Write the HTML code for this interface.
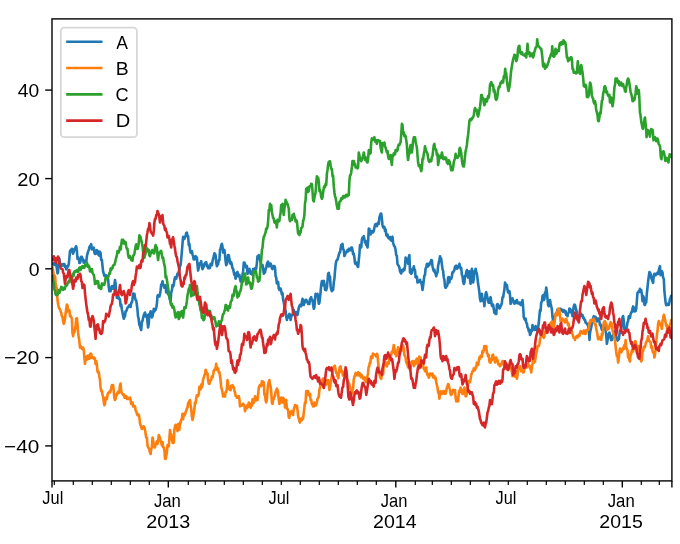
<!DOCTYPE html><html><head><meta charset="utf-8"><title>Line chart A B C D</title><style>html,body{margin:0;padding:0;background:#fff;overflow:hidden;}svg{display:block;}text{font-family:"Liberation Sans",sans-serif;fill:#000;font-kerning:none;will-change:transform;}</style></head><body>
<svg width="680" height="544" viewBox="0 0 680 544">
<rect x="0" y="0" width="680" height="544" fill="#fff"/>
<defs><clipPath id="ax"><rect x="52.0" y="18.9" width="619.90" height="462.00"/></clipPath></defs>
<g clip-path="url(#ax)" fill="none" stroke-width="2.6" stroke-linejoin="round" stroke-linecap="square">
<polyline stroke="#1f77b4" points="52.5,263.8 53.1,263.9 53.8,263.1 54.4,265.0 55.0,265.0 55.6,263.5 56.3,264.3 56.9,268.8 57.5,273.4 58.0,272.5 58.7,264.5 59.4,258.8 60.0,265.2 60.6,263.8 61.2,266.1 61.9,265.0 62.5,265.6 63.1,264.1 63.8,264.1 64.4,264.1 65.0,267.0 65.6,266.2 66.3,269.5 66.9,268.0 67.5,266.2 68.1,266.4 68.8,263.8 69.4,257.7 70.0,251.0 70.6,250.1 71.3,251.5 71.9,248.8 72.5,251.2 73.0,253.8 73.7,251.8 74.4,248.8 75.0,249.6 75.6,247.0 76.2,246.2 76.9,251.3 77.5,258.8 78.1,257.2 78.8,258.8 79.4,263.0 80.0,262.8 80.6,260.8 81.2,256.9 81.8,256.8 82.4,258.4 83.0,259.4 83.7,262.8 84.3,262.8 85.0,261.2 85.6,260.3 86.3,261.6 86.9,256.2 87.5,253.8 88.1,251.4 88.8,250.0 89.4,247.1 90.0,246.0 90.6,245.6 91.2,244.1 91.9,249.5 92.5,248.8 93.1,249.2 93.8,247.7 94.4,252.5 95.0,254.0 95.6,254.0 96.2,250.6 96.9,250.1 97.5,251.7 98.1,254.4 98.7,251.6 99.4,255.9 100.0,251.9 100.6,253.2 101.2,260.0 101.9,259.8 102.5,266.2 103.1,271.4 103.8,273.8 104.4,276.0 105.0,275.8 105.6,275.0 106.2,275.6 106.9,275.9 107.5,278.8 108.1,279.0 108.8,287.5 109.4,291.2 110.0,288.1 110.6,291.2 111.2,287.5 111.9,286.0 112.5,286.0 113.1,288.8 113.7,288.4 114.4,285.5 115.0,280.0 115.6,283.6 116.2,293.8 116.9,297.8 117.5,298.0 118.1,295.1 118.8,298.8 119.4,298.4 120.0,299.9 120.6,306.0 121.2,304.5 121.9,309.5 122.5,312.5 123.1,315.9 123.8,318.8 124.4,316.8 125.0,316.5 125.6,311.2 126.2,311.4 126.9,309.3 127.5,307.5 128.1,307.5 128.8,306.1 129.4,305.0 130.0,306.2 130.6,306.9 131.3,302.5 131.9,302.5 132.5,299.2 133.1,293.6 133.8,293.8 134.4,293.8 135.0,297.7 135.6,300.0 136.2,300.3 136.9,305.0 137.5,310.0 138.0,316.3 138.5,318.0 139.4,325.0 140.0,326.1 140.6,328.5 141.2,330.0 141.9,321.2 142.5,321.1 143.1,317.9 143.8,315.0 144.4,313.7 145.0,312.5 145.6,316.5 146.3,316.5 146.9,315.0 147.5,322.4 148.1,327.5 148.8,323.0 149.4,313.8 150.0,314.1 150.6,311.2 151.2,313.5 151.9,317.4 152.5,316.2 153.1,313.2 153.8,308.8 154.4,311.4 155.0,310.0 155.6,310.0 156.3,307.3 156.9,303.8 157.5,295.9 158.1,295.0 158.7,296.1 159.4,296.5 160.0,293.8 160.6,290.4 161.2,284.5 161.9,284.6 162.5,281.2 163.1,284.7 163.8,286.2 164.4,287.8 165.0,287.8 165.6,285.0 166.2,292.3 166.9,289.5 167.5,292.5 168.1,294.2 168.8,293.0 169.4,297.5 170.0,299.8 170.6,301.2 171.2,292.5 171.9,290.4 172.5,285.0 173.1,286.5 173.8,284.7 174.4,280.0 175.0,277.2 175.6,277.2 176.2,278.8 176.9,275.8 177.5,273.5 178.1,275.0 178.8,271.3 179.4,270.0 180.0,265.7 180.6,265.0 181.2,258.8 181.9,251.2 182.5,243.8 183.1,236.7 183.8,237.5 184.4,239.0 185.0,236.7 185.6,236.2 186.2,233.0 186.9,232.5 187.5,236.5 188.1,236.2 188.8,245.2 189.4,243.8 190.0,249.4 190.6,252.5 191.2,252.8 191.9,251.2 192.5,254.3 193.1,256.2 193.7,259.5 194.4,259.5 195.0,258.0 195.6,256.2 196.3,258.8 196.9,257.5 197.5,264.6 198.1,270.5 198.8,267.7 199.4,263.8 200.0,263.1 200.6,263.5 201.2,261.2 201.9,265.8 202.5,269.2 203.1,267.8 203.7,266.8 204.4,263.9 205.0,263.8 205.6,262.2 206.3,262.2 206.9,266.2 207.5,265.2 208.1,268.2 208.8,266.8 209.4,268.2 210.0,267.8 210.6,263.8 211.2,265.2 211.9,265.2 212.5,261.2 213.1,258.8 213.7,256.4 214.4,253.2 215.0,253.8 215.6,255.2 216.2,262.5 216.9,266.3 217.5,265.0 218.1,264.2 218.8,260.0 219.4,260.2 220.0,250.0 220.6,248.5 221.3,244.9 221.9,243.8 222.5,246.8 223.1,252.5 223.8,250.5 224.4,250.0 225.0,254.6 225.6,261.2 226.2,265.2 226.9,263.8 227.5,260.3 228.1,255.0 228.8,255.3 229.4,258.8 230.0,262.6 230.6,263.8 231.2,262.2 231.9,265.0 232.5,268.3 233.1,268.8 233.8,272.4 234.4,275.0 235.0,273.5 235.6,278.8 236.2,275.5 236.9,272.5 237.5,272.0 238.1,276.2 238.7,275.3 239.4,274.8 240.0,278.8 240.6,281.5 241.2,280.0 241.9,279.0 242.5,275.0 243.1,271.4 243.8,262.5 244.4,262.5 245.0,263.8 245.6,265.8 246.2,267.5 246.9,266.0 247.5,273.8 248.1,272.9 248.8,271.7 249.4,268.8 250.0,270.6 250.6,273.8 251.2,272.7 251.9,272.2 252.5,275.0 253.1,269.0 253.8,270.3 254.4,268.8 255.0,268.3 255.6,269.6 256.2,268.8 256.9,263.1 257.5,256.2 258.1,256.6 258.8,255.0 259.4,256.4 260.0,260.0 260.6,262.2 261.2,266.2 261.9,264.9 262.5,265.0 263.1,268.4 263.8,273.8 264.4,271.0 265.0,272.5 265.6,269.0 266.2,267.5 266.9,263.9 267.5,262.5 268.1,261.5 268.8,266.5 269.4,265.0 270.0,263.5 270.6,263.5 271.2,265.0 271.9,268.4 272.5,269.0 273.1,267.5 273.7,266.0 274.4,266.0 275.0,267.5 275.6,276.2 276.2,277.5 276.9,283.5 277.5,283.5 278.1,282.0 278.8,288.6 279.4,290.0 280.0,288.5 280.6,288.6 281.2,291.0 281.9,294.5 282.5,293.0 283.1,299.5 283.8,302.5 284.4,306.4 285.0,308.8 285.6,310.9 286.3,316.8 286.9,320.0 287.5,316.1 288.1,317.5 288.8,316.9 289.4,313.8 290.0,315.8 290.6,320.0 291.2,316.7 291.9,315.0 292.5,314.4 293.1,313.0 293.8,310.0 294.4,314.0 295.0,314.0 295.6,312.5 296.2,312.1 296.9,315.1 297.5,315.0 298.1,312.1 298.8,307.5 299.4,306.4 300.0,304.8 300.6,306.2 301.2,306.3 301.9,302.1 302.5,298.8 303.1,300.0 303.8,305.0 304.4,301.2 305.0,302.5 305.6,299.8 306.3,299.8 306.9,301.2 307.5,301.8 308.1,304.0 308.8,302.5 309.4,304.0 310.0,298.8 310.6,298.8 311.2,297.2 311.9,300.5 312.5,300.0 313.1,304.6 313.8,308.8 314.4,306.8 315.0,300.0 315.6,293.7 316.2,295.0 316.9,295.4 317.5,293.8 318.1,298.3 318.8,303.8 319.4,302.9 320.0,297.5 320.6,291.8 321.2,285.0 321.9,281.1 322.5,285.3 323.1,281.2 323.8,280.8 324.4,283.8 325.0,289.7 325.6,288.8 326.2,290.2 326.9,287.5 327.5,281.3 328.1,273.8 328.8,272.9 329.4,276.2 330.0,276.4 330.6,286.2 331.2,289.6 331.9,291.2 332.5,290.1 333.1,290.0 333.8,282.3 334.4,278.8 335.0,271.5 335.6,265.0 336.2,261.4 336.9,260.0 337.5,259.7 338.1,257.5 338.8,254.8 339.4,252.5 340.0,252.4 340.6,249.1 341.2,245.0 341.9,244.5 342.5,243.8 343.1,249.0 343.8,250.0 344.4,256.0 345.0,255.0 345.6,252.2 346.2,252.5 346.9,251.4 347.5,250.0 348.1,251.4 348.8,248.9 349.4,248.8 350.0,250.2 350.6,250.2 351.2,247.5 351.9,247.6 352.5,250.0 353.1,254.2 353.8,253.7 354.4,257.5 355.0,263.0 355.6,264.0 356.2,262.5 356.9,264.2 357.5,266.2 358.1,267.0 358.8,260.0 359.4,253.9 360.0,245.0 360.6,245.5 361.2,247.5 361.9,239.6 362.5,237.5 363.1,238.2 363.8,236.2 364.4,239.2 365.0,242.5 365.6,241.0 366.2,245.0 366.9,243.5 367.5,247.5 368.1,241.4 368.8,228.5 369.4,228.9 370.0,232.5 370.6,234.5 371.2,233.0 371.9,231.0 372.5,232.5 373.1,232.3 373.8,231.0 374.4,227.5 375.0,225.0 375.6,224.0 376.3,224.4 376.9,226.2 377.5,223.7 378.1,222.5 378.8,223.9 379.4,217.5 380.0,215.7 380.6,213.8 381.2,213.6 381.9,218.8 382.5,225.0 383.1,227.5 383.7,226.4 384.4,227.0 385.0,231.0 385.6,229.5 386.3,235.2 386.9,236.0 387.5,234.5 388.1,237.5 388.8,238.4 389.4,238.5 390.0,237.0 390.6,240.0 391.2,240.5 391.9,237.5 392.5,236.7 393.1,242.5 393.8,245.3 394.4,246.2 395.0,247.2 395.6,250.0 396.2,254.8 396.9,256.2 397.5,264.1 398.1,265.0 398.8,266.0 399.4,267.5 400.0,271.3 400.6,272.5 401.2,273.5 401.9,270.0 402.5,270.5 403.1,271.2 403.8,268.5 404.4,270.0 405.0,266.4 405.6,257.5 406.2,260.2 406.9,258.8 407.5,260.4 408.1,263.8 408.8,257.0 409.4,255.0 410.0,272.5 410.6,272.0 411.2,273.8 411.9,272.7 412.5,268.8 413.1,270.1 413.8,266.2 414.4,269.5 415.0,270.0 415.6,277.3 416.2,277.5 416.9,276.5 417.5,282.5 418.1,282.2 418.8,281.2 419.4,281.1 420.0,279.8 420.6,282.5 421.2,281.9 421.9,285.1 422.5,290.0 423.1,286.2 423.8,280.0 424.4,275.3 425.0,275.0 425.6,268.4 426.2,267.5 426.9,264.0 427.5,263.8 428.1,266.5 428.8,265.0 429.4,264.9 430.0,262.5 430.6,262.1 431.2,260.0 431.9,260.4 432.5,266.2 433.1,269.1 433.8,271.2 434.4,269.8 435.0,272.5 435.6,273.5 436.2,276.2 436.9,273.4 437.5,272.5 438.1,265.9 438.8,262.5 439.4,259.8 440.0,256.2 440.6,258.3 441.2,258.8 441.9,264.6 442.5,268.8 443.1,271.0 443.8,277.5 444.4,280.0 445.0,286.2 445.6,287.8 446.3,286.4 446.9,286.2 447.5,284.6 448.1,277.5 448.8,277.1 449.4,282.5 450.0,277.5 450.6,277.5 451.2,279.0 451.9,276.2 452.5,272.3 453.1,272.5 453.8,271.0 454.4,270.0 455.0,266.7 455.6,266.2 456.2,265.7 456.9,268.8 457.5,268.3 458.1,266.2 458.8,266.6 459.4,263.8 460.0,266.3 460.6,268.8 461.2,267.8 461.9,275.0 462.5,276.2 463.1,281.2 463.8,284.0 464.4,282.5 465.0,276.1 465.6,276.2 466.2,272.4 466.9,270.0 467.5,271.9 468.1,277.5 468.8,274.4 469.4,271.2 470.0,279.5 470.6,283.8 471.2,273.5 471.9,268.8 472.5,274.0 473.1,282.5 473.8,279.0 474.4,271.2 475.0,272.8 475.6,268.8 476.2,272.1 476.9,273.8 477.5,278.4 478.1,283.8 478.8,287.9 479.4,292.5 480.0,298.8 480.6,301.2 481.2,297.8 481.9,293.8 482.5,300.1 483.1,301.2 483.8,299.8 484.4,306.2 485.0,298.8 485.6,293.8 486.2,292.2 486.9,295.0 487.5,297.9 488.1,301.2 488.7,302.8 489.4,302.8 490.0,298.8 490.6,297.2 491.2,301.2 491.9,305.9 492.5,305.0 493.1,304.7 493.8,309.0 494.4,312.7 495.0,312.5 495.6,314.0 496.3,314.0 496.9,305.0 497.5,304.0 498.1,304.6 498.8,306.2 499.4,308.5 500.0,308.0 500.6,305.9 501.3,305.1 501.9,302.5 502.5,297.2 503.1,297.5 503.8,292.7 504.4,290.0 505.0,282.5 505.6,283.8 506.2,284.9 506.9,285.0 507.5,289.6 508.1,292.5 508.8,291.7 509.4,291.2 510.0,295.0 510.6,303.8 511.2,303.1 511.9,298.8 512.5,298.3 513.1,301.2 513.8,301.0 514.4,303.8 515.0,302.0 515.6,301.2 516.2,302.8 516.9,300.0 517.5,303.3 518.1,302.5 518.8,303.6 519.4,302.5 520.0,302.5 520.6,304.9 521.2,305.0 521.9,303.7 522.5,300.0 523.1,306.5 523.8,317.5 524.4,318.8 525.0,320.0 525.6,318.5 526.2,322.5 526.9,323.5 527.5,327.5 528.1,327.9 528.8,331.2 529.4,329.8 530.0,335.0 530.6,333.7 531.2,330.0 531.9,331.2 532.5,325.0 533.1,329.5 533.8,328.8 534.4,329.8 535.0,327.5 535.6,326.0 536.2,330.0 536.9,330.1 537.5,331.2 538.1,327.8 538.8,322.5 539.4,315.9 540.0,310.0 540.6,310.9 541.2,302.5 541.9,301.7 542.5,296.2 543.1,295.0 543.8,300.0 544.4,299.0 545.0,292.5 545.6,294.0 546.2,287.5 546.9,292.1 547.5,298.8 548.1,305.2 548.8,306.2 549.4,302.6 550.0,300.0 550.6,303.3 551.2,306.2 551.9,309.6 552.5,317.5 553.1,320.2 553.8,318.8 554.4,316.6 555.0,316.2 555.6,314.3 556.3,314.3 556.9,312.5 557.5,309.5 558.1,311.2 558.8,310.0 559.4,310.6 560.0,308.9 560.6,308.8 561.2,309.7 561.9,309.6 562.5,311.2 563.1,311.8 563.8,310.0 564.4,310.7 565.0,312.5 565.6,311.1 566.2,315.0 566.9,313.7 567.5,316.2 568.1,313.3 568.8,312.5 569.4,308.5 570.0,310.0 570.6,309.5 571.2,312.5 571.9,313.1 572.5,316.2 573.1,310.6 573.8,306.2 574.4,304.7 575.0,305.0 575.6,307.5 576.2,310.0 576.9,311.9 577.5,316.2 578.1,320.2 578.8,318.8 579.4,317.0 580.0,315.0 580.6,315.3 581.2,313.8 581.9,316.0 582.5,315.0 583.1,317.9 583.8,317.5 584.4,319.8 585.0,320.0 585.6,322.8 586.2,322.5 586.9,323.9 587.5,325.0 588.1,325.2 588.8,330.0 589.5,340.0 590.0,332.9 590.6,330.0 591.2,327.5 591.9,322.9 592.5,320.0 593.1,318.3 593.8,316.2 594.4,318.5 595.0,317.5 595.6,317.0 596.2,318.2 596.9,321.5 597.5,320.0 598.1,318.5 598.8,318.5 599.4,321.4 600.0,325.0 600.6,324.4 601.2,327.5 601.9,329.9 602.5,328.8 603.1,326.8 603.8,325.3 604.4,323.8 605.0,329.3 605.6,330.3 606.2,335.0 606.9,343.8 607.5,340.2 608.1,337.5 608.8,333.4 609.4,332.5 610.0,334.8 610.6,337.5 611.2,340.1 611.9,340.0 612.5,336.7 613.1,335.0 613.7,334.6 614.4,333.7 615.0,331.2 615.6,335.3 616.3,337.5 616.9,337.5 617.5,340.6 618.1,340.0 618.8,339.1 619.4,335.0 620.0,330.5 620.6,332.8 621.2,328.8 621.9,324.5 622.5,317.5 623.1,316.0 623.8,321.2 624.4,329.6 625.0,330.0 625.6,328.0 626.2,329.5 626.9,326.2 627.5,322.3 628.1,321.2 628.8,316.3 629.4,316.2 630.0,317.8 630.6,313.9 631.2,312.5 631.9,312.1 632.5,308.8 633.1,306.4 633.8,307.5 634.4,311.5 635.0,311.2 635.6,311.3 636.2,308.8 636.9,300.5 637.5,292.5 638.1,292.4 638.8,291.2 639.4,292.0 640.0,288.8 640.6,290.8 641.2,290.0 641.9,294.3 642.5,301.2 643.1,296.0 643.8,297.5 644.4,304.7 645.0,305.0 645.6,302.4 646.2,302.5 646.9,293.0 647.5,287.5 648.1,281.7 648.8,276.2 649.4,272.1 650.0,272.5 650.6,274.0 651.2,277.5 651.9,279.7 652.5,281.2 653.1,282.8 653.8,275.0 654.4,273.9 655.0,273.8 655.6,275.2 656.2,273.8 656.9,274.0 657.5,272.5 658.1,274.0 658.8,270.0 659.4,268.0 660.0,266.2 660.6,275.2 661.2,273.8 661.9,271.3 662.5,272.5 663.1,277.6 663.8,278.8 664.4,291.2 665.0,296.9 665.6,302.5 666.2,305.3 666.9,305.0 667.5,303.6 668.1,303.8 668.8,304.9 669.4,302.5 670.0,298.8 670.6,297.5 671.2,295.8 671.9,295.7 672.5,296.0"/>
<polyline stroke="#ff7f0e" points="52.5,267.5 53.1,270.6 53.8,275.4 54.4,277.5 55.0,276.0 55.6,282.4 56.3,287.2 56.9,288.8 57.5,300.0 58.1,304.1 58.8,307.5 59.4,308.8 60.0,309.1 60.6,311.2 61.2,312.8 61.9,316.2 62.5,316.9 63.1,321.3 63.8,323.8 64.4,322.1 65.0,318.8 65.6,313.3 66.2,308.8 66.9,304.5 67.5,305.6 68.1,311.5 68.8,310.0 69.4,310.2 70.0,316.2 70.6,315.6 71.3,317.2 71.9,318.8 72.5,333.0 73.1,336.2 73.8,331.0 74.4,332.5 75.0,329.2 75.6,326.0 76.2,318.8 76.9,318.2 77.5,323.8 78.1,332.9 78.8,337.5 79.4,341.5 80.0,347.5 80.6,346.0 81.3,346.9 81.9,348.8 82.5,349.1 83.1,347.7 83.8,350.0 84.4,357.8 85.0,363.8 85.6,359.1 86.3,359.8 86.9,356.2 87.5,359.3 88.1,355.6 88.8,358.8 89.4,358.7 90.0,354.5 90.6,353.5 91.2,353.8 91.9,358.0 92.5,358.0 93.1,357.5 93.7,358.6 94.4,357.5 95.0,358.8 95.6,364.1 96.3,361.3 96.9,365.0 97.5,371.4 98.1,372.6 98.8,372.1 99.4,376.9 100.0,380.0 100.6,387.7 101.2,391.1 101.9,390.7 102.5,395.0 103.1,396.6 103.8,402.4 104.4,405.2 105.0,403.8 105.6,397.7 106.2,398.7 106.9,399.1 107.5,394.9 108.1,393.0 108.8,392.5 109.4,391.7 110.0,392.4 110.6,390.9 111.2,388.2 111.9,385.0 112.5,386.2 113.1,385.2 113.8,391.4 114.4,398.2 115.0,400.0 115.6,398.9 116.2,394.5 116.9,395.2 117.5,392.5 118.1,391.7 118.8,392.8 119.4,391.0 120.0,385.0 120.6,383.5 121.2,391.1 121.9,393.4 122.5,393.8 123.1,394.6 123.8,394.3 124.4,397.5 125.0,397.8 125.6,397.8 126.2,396.2 126.9,399.0 127.5,397.4 128.1,399.0 128.8,399.0 129.4,399.0 130.0,397.5 130.6,400.1 131.2,404.0 131.9,404.0 132.5,402.5 133.1,406.5 133.8,405.7 134.4,406.0 135.0,406.8 135.6,410.6 136.2,411.2 136.9,414.0 137.5,415.3 138.1,414.2 138.8,415.0 139.4,417.6 140.0,423.4 140.6,425.4 141.2,427.5 141.9,429.0 142.5,428.5 143.1,426.4 143.8,426.2 144.4,427.6 145.0,429.6 145.6,433.8 146.2,437.5 146.9,437.9 147.5,445.1 148.1,447.4 148.8,448.2 149.4,449.5 150.0,452.5 150.6,454.0 151.2,449.1 151.9,447.2 152.5,437.5 153.1,440.0 153.8,445.5 154.4,447.2 155.0,447.5 155.6,444.4 156.2,442.9 156.9,441.3 157.5,444.1 158.1,440.9 158.8,435.0 159.4,436.5 160.0,438.3 160.6,440.6 161.2,442.5 161.9,445.4 162.5,442.0 163.1,447.1 163.8,447.5 164.4,450.0 165.0,458.8 165.6,458.9 166.2,456.3 166.9,452.5 167.5,445.0 168.1,446.5 168.8,446.5 169.4,438.0 170.0,430.0 170.6,434.9 171.2,434.2 171.9,439.4 172.5,442.5 173.1,443.0 173.8,442.6 174.4,429.8 175.0,426.2 175.6,424.8 176.2,426.7 176.9,428.3 177.5,431.2 178.1,424.0 178.8,426.5 179.4,429.8 180.0,422.5 180.6,422.9 181.2,419.8 181.9,418.8 182.5,413.7 183.1,419.2 183.8,415.0 184.4,413.5 185.0,414.8 185.6,412.1 186.2,410.8 186.9,408.4 187.5,407.5 188.1,403.5 188.8,401.9 189.4,401.2 190.0,400.0 190.6,405.0 191.2,408.9 191.9,416.3 192.5,420.0 193.1,417.4 193.8,412.9 194.4,409.0 195.0,402.5 195.6,403.4 196.2,398.6 196.9,395.2 197.5,395.5 198.1,396.0 198.8,393.8 199.4,386.9 200.0,388.4 200.6,389.4 201.2,384.6 201.9,387.3 202.5,385.0 203.1,379.3 203.8,377.8 204.4,375.4 205.0,374.2 205.6,369.8 206.2,371.2 206.9,373.9 207.5,373.4 208.1,380.2 208.8,383.8 209.4,383.8 210.0,381.5 210.6,380.2 211.2,379.9 211.9,376.3 212.5,377.5 213.1,374.7 213.8,370.5 214.4,369.6 215.0,369.9 215.6,367.9 216.2,363.8 216.9,369.9 217.5,367.9 218.1,368.4 218.8,372.5 219.4,372.0 220.0,376.3 220.6,380.3 221.2,387.5 221.9,389.4 222.5,392.2 223.1,396.5 223.8,395.0 224.4,396.5 225.0,396.5 225.6,392.0 226.2,392.0 226.9,389.0 227.5,380.0 228.1,384.0 228.8,388.8 229.4,389.1 230.0,390.0 230.6,390.2 231.2,385.7 231.9,385.8 232.5,385.0 233.1,387.3 233.8,387.1 234.4,390.9 235.0,392.5 235.6,395.7 236.2,395.9 236.9,397.8 237.5,397.8 238.1,397.8 238.8,396.2 239.4,399.4 240.0,406.3 240.6,406.1 241.2,405.0 241.9,405.5 242.5,405.0 243.1,403.7 243.8,405.2 244.4,405.3 245.0,411.2 245.6,408.8 246.2,407.4 246.9,408.2 247.5,404.7 248.1,407.1 248.8,402.5 249.4,403.0 250.0,405.0 250.6,407.8 251.2,406.2 251.9,405.6 252.5,399.3 253.1,403.5 253.8,402.7 254.4,399.9 255.0,396.2 255.6,398.1 256.2,400.4 256.9,400.0 257.5,400.0 258.1,394.4 258.8,387.8 259.4,386.0 260.0,385.0 260.6,384.8 261.3,386.1 261.9,381.2 262.5,382.6 263.1,381.7 263.8,382.5 264.4,394.7 265.0,393.8 265.6,400.4 266.2,402.5 266.9,399.5 267.5,390.0 268.1,384.6 268.8,381.6 269.4,380.0 270.0,384.6 270.6,386.2 271.2,391.9 271.9,402.5 272.5,404.0 273.1,400.0 273.8,398.9 274.4,396.2 275.0,396.0 275.6,391.6 276.2,391.2 276.9,388.5 277.5,390.0 278.1,393.0 278.8,400.0 279.4,404.0 280.0,402.5 280.6,399.8 281.2,397.5 281.9,400.8 282.5,402.5 283.1,397.8 283.8,398.8 284.4,400.8 285.0,407.5 285.6,401.8 286.2,400.0 286.9,408.9 287.5,408.8 288.1,410.2 288.8,417.5 289.4,417.9 290.0,412.5 290.6,412.3 291.3,411.0 291.9,413.8 292.5,412.7 293.1,415.0 293.7,409.9 294.4,407.3 295.0,405.0 295.6,406.6 296.2,406.2 296.9,405.7 297.5,410.0 298.1,415.9 298.8,418.8 299.4,421.2 300.0,422.6 300.6,418.8 301.2,419.5 301.9,420.2 302.5,417.5 303.1,418.6 303.8,412.5 304.4,407.4 305.0,402.5 305.6,403.0 306.2,391.2 306.9,391.0 307.5,392.1 308.1,391.2 308.7,395.2 309.4,395.2 310.0,393.8 310.6,400.2 311.2,400.0 311.9,403.9 312.5,405.0 313.1,406.4 313.8,406.5 314.4,402.5 315.0,405.4 315.6,405.6 316.2,405.0 316.9,402.3 317.5,398.8 318.1,398.0 318.8,396.2 319.4,389.6 320.0,387.5 320.6,384.1 321.2,383.8 321.9,380.1 322.5,380.0 323.1,378.5 323.8,381.8 324.4,381.2 325.0,383.9 325.6,385.0 326.2,383.4 326.9,380.0 327.5,380.0 328.1,380.0 328.8,385.2 329.4,390.0 330.0,387.6 330.7,382.5 331.4,378.4 332.1,374.7 332.8,369.2 333.5,367.0 334.1,366.4 334.8,365.7 335.5,369.2 336.2,373.1 336.9,372.9 337.6,376.5 338.3,378.4 339.0,371.9 339.7,367.4 340.6,366.4 341.5,372.0 342.2,371.0 342.9,375.6 343.5,372.3 344.1,372.3 344.7,373.8 345.4,372.3 346.1,374.7 346.8,379.4 347.5,380.2 348.1,382.0 348.8,383.0 349.5,385.2 350.2,387.6 350.9,390.3 351.6,394.0 352.3,390.2 353.0,389.4 353.7,379.9 354.4,376.5 355.0,375.5 355.7,372.9 356.3,373.9 357.0,375.3 357.6,373.8 358.2,372.3 358.8,373.0 359.4,375.6 360.0,373.4 360.7,377.1 361.3,374.7 362.0,375.6 362.6,377.5 363.3,379.1 364.0,378.4 364.7,377.5 365.4,381.1 366.3,382.1 367.2,377.5 367.9,373.9 368.6,367.4 369.2,366.1 369.8,362.8 370.4,362.8 371.0,356.5 371.7,357.4 372.3,358.0 373.0,353.5 373.8,355.0 374.4,354.4 375.0,354.9 375.6,355.0 376.2,356.5 376.9,353.7 377.5,355.0 378.1,361.8 378.7,367.4 379.6,375.0 380.5,378.0 381.2,378.8 381.9,375.1 382.5,373.8 383.1,374.4 383.8,365.0 384.4,362.0 385.0,361.2 385.6,364.1 386.2,365.0 386.9,366.5 387.5,362.5 388.1,363.7 388.8,363.7 389.4,356.2 390.0,357.6 390.6,357.8 391.2,355.0 391.9,351.5 392.5,352.5 393.1,349.6 393.8,345.0 394.4,348.1 395.0,353.8 395.6,353.0 396.2,356.2 396.9,355.7 397.5,350.0 398.1,347.2 398.8,348.8 399.4,351.6 400.0,353.8 400.6,350.9 401.2,351.2 401.9,345.8 402.5,346.2 403.1,345.4 403.8,348.8 404.4,355.1 405.0,356.2 405.6,357.5 406.2,362.5 406.9,362.8 407.5,365.0 408.1,367.5 408.8,367.5 409.4,368.2 410.0,370.0 410.6,367.2 411.2,362.5 411.9,361.4 412.5,361.2 413.1,361.0 413.8,366.2 414.4,365.2 415.0,363.8 415.6,360.8 416.2,360.0 416.9,358.7 417.5,364.0 418.1,365.0 418.8,359.0 419.4,356.5 420.0,359.0 420.6,357.5 421.2,361.4 421.9,362.5 422.5,363.6 423.1,365.2 423.8,368.8 424.4,369.3 425.0,371.2 425.6,371.1 426.2,367.5 426.9,373.4 427.5,375.0 428.1,373.9 428.8,377.8 429.4,376.2 430.0,373.5 430.6,373.5 431.2,375.0 431.9,373.5 432.5,373.5 433.1,377.5 433.7,376.9 434.4,376.1 435.0,378.8 435.6,377.7 436.3,382.9 436.9,385.0 437.5,387.5 438.1,392.5 438.8,393.6 439.4,398.8 440.0,395.1 440.6,391.2 441.2,394.0 441.9,394.0 442.5,392.5 443.1,391.0 443.8,391.0 444.4,393.8 445.0,391.3 445.6,393.7 446.2,391.2 446.9,387.5 447.5,386.2 448.1,384.0 448.8,385.0 449.4,388.0 450.0,390.0 450.6,394.1 451.2,395.0 451.9,393.8 452.5,391.2 453.1,389.8 453.8,391.6 454.4,391.2 455.0,390.0 455.6,397.7 456.3,401.5 456.9,400.0 457.5,397.4 458.1,401.5 458.8,393.8 459.4,390.6 460.0,392.2 460.6,387.5 461.2,389.8 461.9,392.5 462.5,394.0 463.1,393.8 463.8,390.3 464.4,387.5 465.0,390.1 465.6,396.3 466.2,396.2 466.9,393.7 467.5,390.0 468.1,383.3 468.8,381.0 469.4,382.5 470.0,382.1 470.6,379.0 471.2,375.0 471.9,372.9 472.5,371.2 473.1,371.3 473.8,368.4 474.4,368.8 475.0,370.2 475.6,367.2 476.2,367.5 476.9,362.5 477.5,364.0 478.1,364.9 478.8,361.2 479.4,357.2 480.0,358.8 480.6,355.7 481.2,356.2 481.9,356.7 482.5,351.0 483.1,352.5 483.7,350.7 484.4,346.0 485.0,347.5 485.6,348.3 486.2,346.2 486.9,353.0 487.5,353.8 488.1,356.5 488.8,355.0 489.4,361.5 490.0,362.5 490.6,362.7 491.2,358.8 491.9,360.2 492.5,355.0 493.1,354.6 493.8,358.8 494.4,357.8 495.0,362.5 495.6,361.0 496.2,357.5 496.9,360.9 497.5,360.0 498.1,364.1 498.8,363.8 499.4,365.5 500.0,366.2 500.6,365.1 501.3,363.9 501.9,362.5 502.5,361.0 503.1,361.0 503.8,365.0 504.4,368.1 505.0,368.3 505.6,367.5 506.2,364.8 506.9,368.8 507.5,366.2 508.1,367.6 508.8,367.8 509.4,365.0 510.0,365.1 510.6,367.5 511.2,367.5 511.9,372.3 512.5,376.2 513.1,374.9 513.8,375.0 514.4,376.5 515.0,371.7 515.6,371.2 516.2,375.2 516.9,378.8 517.5,375.0 518.1,370.0 518.7,368.5 519.4,366.8 520.0,366.2 520.6,368.2 521.2,371.2 521.9,371.2 522.5,369.8 523.1,372.5 523.7,372.4 524.4,367.7 525.0,368.8 525.6,366.0 526.3,367.2 526.9,367.5 527.5,365.6 528.1,363.5 528.8,365.0 529.4,365.6 530.0,368.4 530.6,367.5 531.2,372.5 531.9,366.6 532.5,363.8 533.1,361.0 533.8,361.0 534.4,362.5 535.0,361.6 535.6,357.5 536.2,353.4 536.9,351.2 537.5,346.0 538.1,346.2 538.8,346.3 539.4,343.8 540.0,339.6 540.6,337.5 541.2,335.3 541.9,334.8 542.5,336.2 543.1,336.0 543.8,337.8 544.4,336.2 545.0,331.5 545.6,331.5 546.2,333.0 546.9,331.9 547.5,328.3 548.1,329.6 548.8,325.0 549.4,326.5 550.0,323.5 550.6,326.2 551.2,322.5 551.9,321.4 552.5,326.3 553.1,325.2 553.8,327.5 554.4,323.9 555.0,319.4 555.6,313.5 556.2,315.0 556.8,312.3 557.4,315.3 558.0,308.8 558.7,308.6 559.3,309.6 560.0,315.0 560.6,321.5 561.3,321.5 561.9,320.0 562.5,318.5 563.1,320.6 563.8,321.2 564.4,320.9 565.0,322.5 565.6,319.2 566.2,318.8 566.9,321.5 567.5,322.5 568.1,325.1 568.8,323.9 569.4,328.0 570.0,333.0 570.6,330.9 571.2,331.5 571.9,331.6 572.5,334.4 573.1,336.0 573.7,338.0 574.4,337.5 575.0,340.0 575.6,337.5 576.3,336.6 576.9,336.0 577.5,337.5 578.1,335.8 578.8,334.5 579.4,336.0 580.0,333.7 580.6,331.0 581.2,332.9 581.9,332.7 582.5,332.0 583.1,333.5 583.8,330.5 584.4,332.5 585.0,334.0 585.6,334.0 586.2,330.0 586.9,331.5 587.5,329.8 588.1,330.0 588.8,328.5 589.4,322.5 590.0,323.6 590.6,320.0 591.2,320.9 591.9,321.2 592.5,320.9 593.1,320.0 593.8,318.7 594.4,322.5 595.0,325.0 595.6,324.0 596.2,328.8 596.9,331.5 597.5,335.0 598.1,339.2 598.8,337.8 599.4,338.8 600.0,337.2 600.6,337.5 601.2,340.0 601.9,333.5 602.5,335.0 603.1,329.4 603.8,322.5 604.4,321.6 605.0,321.2 605.6,324.5 606.3,323.6 606.9,330.0 607.5,326.2 608.1,327.5 608.7,329.0 609.4,327.4 610.0,323.8 610.6,322.2 611.3,322.8 611.9,323.8 612.5,330.0 613.1,332.5 613.8,334.0 614.4,338.8 615.0,340.6 615.6,346.2 616.2,351.9 616.9,356.2 617.5,356.0 618.1,362.5 618.8,358.2 619.4,352.5 620.0,348.5 620.6,350.0 621.2,352.2 621.9,351.2 622.5,349.6 623.1,347.5 623.8,349.0 624.4,345.0 625.0,346.3 625.6,340.0 626.2,347.4 626.9,348.8 627.5,350.2 628.1,357.5 628.8,356.0 629.4,360.0 630.0,361.5 630.6,353.8 631.2,354.3 631.9,350.0 632.5,349.5 633.1,351.5 633.8,347.5 634.4,348.0 635.0,341.2 635.6,341.3 636.2,345.0 636.9,349.0 637.5,347.5 638.1,348.9 638.8,346.0 639.4,351.2 640.0,356.0 640.6,358.8 641.2,361.5 641.9,360.0 642.5,351.8 643.1,351.2 643.8,346.9 644.4,347.5 645.0,347.1 645.6,343.8 646.2,342.0 646.9,341.2 647.5,339.5 648.1,336.2 648.8,339.9 649.4,341.2 650.0,341.4 650.6,342.5 651.2,347.8 651.9,346.2 652.5,350.8 653.1,352.5 653.8,352.4 654.4,357.5 655.0,354.2 655.6,350.0 656.2,342.1 656.9,335.0 657.5,331.0 658.1,323.8 658.8,321.0 659.4,322.5 660.0,324.5 660.6,323.8 661.2,326.1 661.9,328.8 662.5,320.6 663.1,318.8 663.8,314.8 664.4,316.2 665.0,319.9 665.6,322.5 666.2,325.8 666.9,325.0 667.5,332.2 668.1,332.5 668.8,330.9 669.4,326.2 670.0,324.6 670.6,322.5 671.2,320.1 671.9,323.8 672.5,321.0"/>
<polyline stroke="#2ca02c" points="52.5,276.0 53.1,280.5 53.8,282.5 54.4,289.7 55.0,290.0 55.6,294.4 56.3,295.2 56.9,293.8 57.5,294.6 58.1,293.7 58.8,290.0 59.4,292.8 60.0,291.2 60.6,289.8 61.2,286.9 61.9,288.1 62.5,287.5 63.2,290.0 64.0,288.5 64.8,289.0 65.5,286.0 66.2,285.0 66.9,285.4 67.5,283.5 68.1,282.2 68.8,281.2 69.5,282.0 70.0,276.7 70.6,277.5 71.2,279.0 71.9,279.0 72.5,275.0 73.0,273.5 73.5,276.0 74.2,272.0 75.0,271.2 75.6,271.9 76.3,270.8 76.9,270.0 77.4,270.1 78.0,272.0 78.5,270.5 79.2,267.9 80.0,267.5 80.6,270.0 81.2,268.5 81.9,266.5 82.5,266.2 83.1,267.8 83.8,267.8 84.4,267.8 85.0,265.0 85.6,265.7 86.2,266.0 86.8,262.9 87.5,264.4 88.1,266.9 88.8,265.6 89.4,267.2 90.0,271.5 90.6,271.5 91.2,270.0 91.9,269.1 92.5,272.9 93.1,273.9 93.8,275.0 94.4,278.3 95.0,284.0 95.6,284.0 96.2,282.5 96.9,281.0 97.5,281.0 98.1,281.4 98.8,287.5 99.4,288.1 100.0,286.2 100.6,288.4 101.2,288.8 101.9,283.6 102.5,283.5 103.1,284.7 103.8,285.0 104.4,284.6 105.0,281.8 105.6,277.6 106.2,278.8 106.9,279.1 107.5,277.2 108.1,277.4 108.8,275.0 109.4,272.8 110.0,273.7 110.6,268.5 111.2,270.0 111.9,267.8 112.5,268.4 113.1,265.7 113.8,265.0 114.4,264.8 115.0,262.9 115.6,260.2 116.2,257.5 116.9,255.4 117.5,251.0 118.1,251.0 118.8,252.5 119.4,250.0 120.0,246.7 120.6,249.5 121.2,245.0 121.9,239.8 122.5,241.2 123.1,239.8 123.8,243.4 124.4,241.3 125.0,243.8 125.6,242.2 126.2,246.3 126.9,248.9 127.5,248.8 128.1,254.8 128.8,257.8 129.4,257.8 130.0,256.2 130.6,258.3 131.2,260.0 131.9,260.2 132.5,260.7 133.1,256.2 133.7,255.1 134.4,253.9 135.0,250.0 135.6,246.3 136.3,244.3 136.9,245.0 137.5,249.0 138.1,247.5 138.7,243.2 139.4,235.4 140.0,236.2 140.6,237.2 141.2,240.0 141.9,242.9 142.5,246.2 143.1,252.2 143.8,256.2 144.4,257.8 145.0,255.0 145.6,253.5 146.3,247.2 146.9,248.8 147.5,248.9 148.1,251.5 148.8,250.0 149.4,255.4 150.0,256.2 150.6,253.5 151.2,252.5 151.9,250.3 152.5,250.0 153.1,251.9 153.8,253.5 154.4,252.5 155.0,247.8 155.6,245.0 156.2,249.0 156.9,247.5 157.5,255.4 158.1,260.0 158.8,254.2 159.4,252.5 160.0,252.6 160.6,251.2 161.2,250.9 161.9,255.0 162.5,258.3 163.1,257.5 163.8,262.2 164.4,265.0 165.0,267.7 165.6,277.5 166.2,276.0 166.9,279.7 167.5,283.8 168.1,287.8 168.8,292.5 169.4,296.2 170.0,298.8 170.6,303.4 171.3,305.2 171.9,303.8 172.5,307.8 173.1,306.2 173.8,307.2 174.4,310.0 175.0,314.7 175.6,317.5 176.2,314.7 176.9,316.6 177.5,312.5 178.1,312.1 178.8,319.0 179.4,317.5 180.0,316.6 180.6,312.0 181.2,312.5 181.9,311.0 182.5,315.7 183.1,317.5 183.7,312.8 184.4,307.4 185.0,307.5 185.6,308.1 186.3,304.8 186.9,301.2 187.5,295.3 188.1,292.6 188.8,288.8 189.4,289.0 190.0,285.0 190.6,290.3 191.2,296.2 191.9,292.2 192.5,293.8 193.1,295.2 193.8,295.0 194.4,288.8 195.0,289.9 195.6,290.2 196.2,287.5 196.9,286.0 197.5,292.5 198.1,296.1 198.8,300.0 199.4,304.3 200.0,306.2 200.6,310.5 201.2,310.0 201.9,317.8 202.5,316.2 203.1,319.6 203.8,320.1 204.4,318.8 205.0,312.7 205.6,313.8 206.2,311.6 206.9,309.6 207.5,310.0 208.1,311.9 208.8,312.5 209.4,311.2 210.0,311.0 210.6,314.6 211.2,315.0 211.9,319.6 212.5,318.0 213.1,318.8 213.7,317.2 214.4,317.2 215.0,320.0 215.6,322.5 216.2,326.5 216.9,326.0 217.5,325.0 218.1,325.5 218.8,321.2 219.4,325.2 220.0,323.8 220.6,323.6 221.2,321.2 221.9,320.2 222.5,316.2 223.1,314.0 223.8,313.8 224.4,311.2 225.0,310.0 225.6,305.0 226.2,305.0 226.9,309.3 227.5,310.0 228.1,310.5 228.8,306.2 229.4,307.8 230.0,307.8 230.6,302.5 231.2,301.1 231.9,300.0 232.5,294.8 233.1,296.2 233.8,295.6 234.4,290.0 235.0,287.9 235.6,286.2 236.2,289.7 236.9,292.5 237.5,297.5 238.1,294.7 238.8,296.0 239.4,293.3 240.0,291.2 240.6,290.7 241.2,287.5 241.9,282.4 242.5,282.5 243.1,280.4 243.8,275.0 244.4,276.6 245.0,273.6 245.6,278.8 246.2,284.4 246.9,283.8 247.5,282.2 248.1,277.5 248.7,282.1 249.4,283.2 250.0,282.5 250.6,285.6 251.2,288.8 251.9,288.2 252.5,284.8 253.1,281.2 253.7,271.4 254.4,271.0 255.0,272.5 255.6,271.0 256.3,273.1 256.9,277.5 257.5,277.5 258.1,281.6 258.8,281.2 259.4,280.6 260.0,273.8 260.6,265.9 261.2,260.0 261.9,250.0 262.5,247.9 263.1,241.2 263.8,236.5 264.4,236.2 265.0,233.8 265.6,232.5 266.2,228.5 266.9,228.8 267.5,226.6 268.1,222.0 268.8,210.0 269.4,210.5 270.0,203.8 270.6,205.4 271.2,205.0 271.9,212.1 272.5,215.0 273.1,217.8 273.8,218.8 274.4,222.3 275.0,222.8 275.6,221.2 276.2,223.0 276.9,227.5 277.5,219.8 278.1,221.2 278.7,221.4 279.4,220.9 280.0,216.2 280.6,213.0 281.2,205.0 281.9,205.5 282.5,203.8 283.1,210.4 283.8,215.0 284.4,208.5 285.0,205.0 285.6,199.8 286.2,201.2 286.9,202.8 287.5,203.8 288.1,206.0 288.8,208.8 289.4,218.6 290.0,221.2 290.6,220.3 291.2,220.0 291.9,219.8 292.5,215.0 293.1,216.5 293.8,213.8 294.4,216.7 295.0,218.8 295.6,221.5 296.2,220.0 296.9,221.4 297.5,227.5 298.1,233.3 298.8,234.3 299.4,235.0 300.0,231.3 300.6,232.5 301.2,228.0 301.9,227.5 302.5,226.5 303.1,221.2 303.8,218.8 304.4,215.0 305.0,203.2 305.6,200.0 306.2,188.8 306.9,190.2 307.5,187.5 308.1,192.0 308.8,191.2 309.4,186.5 310.0,186.2 310.6,186.2 311.2,183.8 311.9,184.1 312.5,191.2 313.1,200.0 313.8,201.5 314.4,197.5 315.0,194.9 315.6,192.5 316.2,183.4 316.9,176.2 317.5,177.8 318.1,177.5 318.8,181.5 319.4,191.2 320.0,189.8 320.6,192.5 321.2,197.1 321.9,198.8 322.5,197.3 323.1,192.5 323.8,187.9 324.4,186.2 325.0,187.1 325.6,183.8 326.2,184.9 326.9,173.8 327.5,170.0 328.1,165.0 328.7,161.9 329.4,164.6 330.0,161.2 330.6,165.3 331.2,168.8 331.9,169.0 332.5,176.2 333.1,175.5 333.8,186.2 334.4,192.2 335.0,196.2 335.6,197.7 336.2,201.2 336.9,205.7 337.5,208.8 338.1,207.8 338.8,208.8 339.4,202.2 340.0,201.2 340.6,201.2 341.2,198.3 341.9,199.2 342.5,198.8 343.1,196.0 343.8,196.0 344.4,196.0 345.0,197.5 345.6,196.4 346.2,194.8 346.9,195.7 347.5,196.2 348.1,194.6 348.8,195.0 349.4,181.0 350.0,175.5 350.6,175.0 351.2,172.5 351.9,167.0 352.5,161.0 353.1,162.5 353.8,161.0 354.4,165.0 355.0,163.7 355.6,167.5 356.2,166.9 356.9,167.4 357.5,168.4 358.1,166.9 358.8,152.5 359.4,155.2 360.0,158.8 360.6,159.2 361.2,161.2 361.9,159.7 362.5,157.5 363.1,156.0 363.8,152.5 364.4,155.6 365.0,160.0 365.6,157.3 366.2,158.8 366.9,162.1 367.5,162.5 368.1,158.7 368.8,150.0 369.4,151.0 370.0,153.8 370.6,153.0 371.2,142.5 371.9,138.4 372.5,138.8 373.1,139.6 373.8,138.8 374.4,137.2 375.0,141.5 375.6,140.0 376.2,141.7 376.9,143.8 377.5,140.4 378.1,140.0 378.8,140.9 379.4,141.2 380.0,141.0 380.6,147.5 381.2,150.3 381.9,152.5 382.5,143.1 383.1,143.8 383.8,144.6 384.4,142.5 385.0,146.4 385.6,147.5 386.2,150.0 386.9,152.5 387.5,151.0 388.1,156.2 388.8,159.0 389.4,157.5 390.0,156.0 390.6,155.0 391.2,160.5 391.9,165.0 392.5,155.3 393.1,156.2 393.8,153.4 394.4,153.8 395.0,154.4 395.6,150.0 396.2,150.0 396.9,151.2 397.5,150.3 398.1,146.2 398.8,144.5 399.4,145.0 400.0,143.3 400.6,142.5 401.2,135.0 401.9,123.8 402.5,125.0 403.1,133.8 403.8,132.2 404.4,136.2 405.0,135.4 405.6,136.2 406.2,140.0 406.9,145.0 407.5,155.4 408.1,160.0 408.8,154.3 409.4,153.8 410.0,147.7 410.6,145.0 411.2,148.8 411.9,152.5 412.5,147.1 413.1,141.2 413.8,137.4 414.4,137.5 415.0,137.3 415.6,141.2 416.2,144.5 416.9,147.5 417.5,155.1 418.1,162.5 418.8,166.1 419.4,166.2 420.0,165.2 420.6,168.8 421.2,171.2 421.9,168.4 422.5,158.8 423.1,159.4 423.8,153.8 424.4,150.9 425.0,146.2 425.6,149.2 426.2,151.2 426.9,152.4 427.5,153.8 428.1,157.9 428.8,161.2 429.4,161.9 430.0,160.0 430.6,160.3 431.2,161.2 431.9,157.0 432.5,156.2 433.1,150.7 433.8,145.0 434.4,143.9 435.0,148.8 435.6,149.0 436.2,150.0 436.9,155.2 437.5,153.8 438.1,165.0 438.8,160.9 439.4,156.2 440.0,155.6 440.6,156.2 441.2,157.8 441.9,152.5 442.5,155.5 443.1,158.8 443.8,159.2 444.4,157.5 445.0,159.0 445.6,157.5 446.2,158.2 446.9,162.5 447.5,163.1 448.1,163.8 448.8,160.2 449.4,161.2 450.0,163.5 450.6,166.2 451.2,170.2 451.9,168.8 452.5,170.2 453.1,167.5 453.8,162.0 454.4,160.0 455.0,158.7 455.6,153.8 456.2,157.4 456.9,157.5 457.5,157.9 458.1,156.2 458.8,156.1 459.4,148.8 460.0,147.8 460.6,150.0 461.2,152.8 461.9,160.0 462.5,164.2 463.1,166.2 463.8,166.5 464.4,162.5 465.0,156.0 465.6,151.2 466.2,148.6 466.9,145.0 467.5,138.8 468.1,135.0 468.8,127.9 469.4,121.2 470.0,119.4 470.6,118.8 471.2,120.2 471.9,118.9 472.5,117.5 473.1,117.5 473.8,115.0 474.4,110.8 475.0,108.0 475.6,110.6 476.2,111.2 476.9,109.8 477.5,115.0 478.1,116.5 478.8,113.3 479.4,110.0 480.0,106.9 480.6,102.5 481.2,95.0 481.9,95.1 482.5,98.8 483.1,98.1 483.8,102.5 484.4,105.2 485.0,103.8 485.6,99.2 486.2,100.0 486.9,101.5 487.5,98.8 488.1,96.0 488.8,97.5 489.4,92.9 490.0,85.0 490.6,83.4 491.3,82.2 491.9,83.8 492.5,86.0 493.1,85.0 493.8,91.5 494.4,90.0 495.0,94.0 495.6,98.8 496.2,99.8 496.9,98.8 497.5,95.5 498.1,90.0 498.8,86.7 499.4,87.5 500.0,85.0 500.6,82.5 501.2,83.2 501.9,81.2 502.5,81.5 503.1,82.5 503.8,76.2 504.4,77.5 505.2,68.8 505.8,74.1 506.2,73.0 506.9,80.7 507.5,85.0 508.0,88.5 508.5,91.0 509.1,88.0 509.8,85.5 510.6,76.2 511.2,70.5 511.9,66.2 512.5,62.5 513.1,59.6 513.8,57.5 514.4,54.9 515.0,55.0 515.6,56.3 516.2,61.2 516.9,59.6 517.5,56.2 518.1,48.7 518.8,46.2 519.4,45.8 520.0,52.5 520.6,52.9 521.2,53.8 521.9,52.2 522.5,53.8 523.1,55.0 523.8,55.0 524.4,55.6 525.0,55.0 525.6,53.5 526.2,57.5 526.9,51.7 527.5,43.8 528.1,50.4 528.8,53.8 529.4,52.2 530.0,56.2 530.6,53.5 531.2,55.0 531.9,53.5 532.5,56.2 533.1,57.4 533.8,55.0 534.4,51.9 535.0,50.0 535.6,47.6 536.2,47.5 536.8,45.5 537.2,39.4 537.9,45.2 538.5,46.2 539.1,46.7 539.8,47.5 540.5,48.7 541.2,48.8 541.9,53.2 542.5,58.8 543.1,66.5 543.8,65.0 544.4,63.7 545.0,68.8 545.6,66.0 546.2,67.5 546.9,66.5 547.5,65.0 548.1,62.9 548.8,61.2 549.4,58.2 550.0,57.5 550.6,55.3 551.2,53.8 551.8,54.5 552.2,46.2 553.1,56.2 553.8,56.7 554.4,56.2 555.0,52.3 555.6,48.8 556.2,54.0 556.9,52.5 557.5,50.6 558.1,50.0 558.8,51.0 559.4,45.0 560.0,43.2 560.6,42.5 561.2,44.6 561.9,43.1 562.5,41.6 563.1,43.8 563.6,40.4 564.2,41.5 564.8,41.9 565.4,42.7 566.0,47.5 566.9,57.5 567.5,57.4 568.1,61.2 568.8,58.7 569.4,60.0 570.0,58.6 570.6,57.5 571.2,57.2 571.9,58.8 572.5,68.8 573.1,68.8 573.8,72.7 574.4,72.5 575.0,72.1 575.6,72.5 576.2,73.5 576.9,72.5 577.8,61.2 578.2,65.1 578.8,71.2 579.4,72.9 580.0,73.8 580.6,68.2 581.2,65.0 581.9,68.7 582.5,72.5 583.1,77.4 583.8,86.2 584.4,84.8 585.0,87.0 585.6,84.8 586.2,86.2 586.9,97.0 587.5,96.2 588.1,97.2 588.8,95.0 589.4,89.2 590.0,82.5 590.6,83.6 591.2,87.5 591.9,95.7 592.5,97.5 593.1,98.6 593.8,102.5 594.4,103.7 595.0,101.2 595.6,104.1 596.2,110.0 596.9,112.3 597.5,115.0 598.1,120.8 598.8,121.2 599.4,117.0 600.0,112.5 600.6,113.7 601.2,107.5 601.9,100.8 602.5,100.0 603.1,93.8 603.8,91.2 604.4,86.9 605.0,86.2 605.6,87.7 606.2,92.5 606.9,91.4 607.5,93.8 608.1,95.7 608.8,96.2 609.4,94.8 610.0,102.5 610.6,102.5 611.2,97.5 611.9,100.4 612.5,106.2 613.1,103.0 613.8,96.2 614.4,87.4 615.0,85.0 615.6,78.6 616.2,80.0 616.9,78.5 617.5,81.2 618.1,82.8 618.8,81.2 619.4,85.2 620.0,83.8 620.6,85.2 621.2,82.5 621.9,85.6 622.5,85.0 623.1,84.0 623.8,87.5 624.4,87.3 625.0,91.2 625.6,91.8 626.2,87.5 626.9,83.5 627.5,80.0 628.1,78.5 628.8,80.0 629.4,83.8 630.0,87.5 630.6,92.1 631.2,93.8 631.9,96.5 632.5,101.2 633.1,101.0 633.8,100.0 634.4,100.0 635.0,96.2 635.6,93.6 636.2,86.2 636.9,88.9 637.5,92.5 638.1,94.0 638.8,90.0 639.3,96.7 639.9,112.4 640.4,114.2 640.9,118.5 641.4,122.6 641.9,124.7 642.5,128.0 643.0,128.8 643.5,125.1 644.0,123.7 644.5,118.8 645.0,117.5 645.5,123.3 646.0,127.8 646.6,137.1 647.1,133.2 647.6,130.0 648.4,132.5 649.1,131.0 649.9,136.6 650.5,131.9 651.2,129.0 652.0,131.5 652.7,130.0 653.5,140.3 654.0,137.3 654.6,137.3 655.2,137.3 655.7,138.8 656.2,141.1 656.8,141.1 657.4,138.6 657.9,139.6 658.7,144.0 659.4,144.9 660.1,146.9 660.9,157.9 661.5,159.2 662.0,152.1 662.8,153.6 663.5,151.3 664.0,152.9 664.6,155.7 665.3,160.9 666.0,159.4 666.6,157.9 667.3,160.8 667.9,160.9 668.5,162.4 669.0,157.9 669.7,154.2 670.4,155.7 671.1,156.1 671.8,157.2 672.5,155.0"/>
<polyline stroke="#d62728" points="52.5,258.8 53.1,260.2 53.8,256.4 54.4,257.5 55.0,259.5 55.6,261.9 56.2,262.9 56.9,257.8 57.5,258.8 58.1,256.5 58.8,258.0 59.4,262.5 60.0,265.0 60.6,267.6 61.3,268.8 61.9,268.8 62.5,269.1 63.1,272.5 63.8,273.6 64.4,278.8 65.0,283.8 65.6,279.4 66.3,276.0 66.9,277.5 67.5,277.0 68.1,273.0 68.8,270.0 69.4,270.1 70.0,275.0 70.6,276.0 71.3,277.1 71.9,282.5 72.5,284.6 73.1,288.8 73.8,284.9 74.4,280.0 75.0,281.5 75.6,281.5 76.2,277.5 76.9,279.0 77.5,279.0 78.1,275.0 78.7,274.9 79.4,276.3 80.0,273.8 80.6,275.5 81.2,281.0 81.9,282.0 82.5,288.0 83.1,287.2 83.8,284.5 84.4,285.0 85.0,293.1 85.6,298.8 86.2,303.8 86.9,308.8 87.5,312.6 88.1,314.6 88.8,320.0 89.4,318.5 90.0,326.2 90.6,326.7 91.3,319.8 91.9,318.8 92.5,316.0 93.1,317.5 93.8,320.6 94.4,327.5 95.0,332.4 95.6,338.8 96.2,329.1 96.9,325.0 97.5,326.3 98.1,324.4 98.8,330.0 99.4,328.9 100.0,333.1 100.6,332.5 101.2,334.0 101.9,333.2 102.5,330.0 103.1,321.0 103.8,322.5 104.4,321.9 105.0,321.2 105.6,318.8 106.2,313.8 106.9,314.5 107.5,314.8 108.1,315.0 108.7,316.5 109.4,312.9 110.0,310.0 110.6,306.3 111.3,304.4 111.9,303.8 112.5,300.0 113.1,294.6 113.8,295.0 114.4,293.3 115.0,290.0 115.6,292.2 116.3,292.6 116.9,295.0 117.5,293.2 118.1,295.0 118.8,291.2 119.4,288.5 120.0,285.0 120.6,289.9 121.2,293.8 121.9,295.2 122.5,294.1 123.1,292.5 123.7,291.0 124.4,293.7 125.0,296.2 125.6,303.4 126.2,301.9 126.9,298.0 127.5,293.8 128.1,291.3 128.8,290.0 129.4,291.1 130.0,295.0 130.6,290.7 131.2,291.2 131.9,285.2 132.5,282.5 133.1,281.0 133.8,285.0 134.4,282.7 135.0,282.5 135.6,276.0 136.2,272.5 136.9,266.5 137.5,268.5 138.1,267.5 138.8,266.5 139.4,265.0 140.0,268.3 140.6,267.5 141.2,261.3 141.9,260.0 142.5,261.5 143.1,253.8 143.8,252.9 144.4,250.0 145.0,245.0 145.6,246.2 146.2,242.1 146.9,235.0 147.5,232.2 148.1,228.8 148.8,228.8 149.4,223.1 150.0,226.2 150.6,231.2 151.2,232.0 151.9,233.8 152.5,233.8 153.1,235.6 153.8,231.2 154.4,222.5 155.0,219.0 155.6,218.8 156.2,215.1 156.9,215.0 157.5,211.0 158.1,212.5 158.8,214.0 159.4,217.5 160.0,222.5 160.6,219.0 161.2,216.2 161.9,217.1 162.5,215.0 163.1,223.2 163.8,225.0 164.4,225.9 165.0,230.0 165.6,228.5 166.2,231.2 166.9,232.4 167.5,237.5 168.1,237.5 168.8,236.2 169.4,239.0 170.0,243.8 170.6,244.0 171.2,247.5 171.9,240.3 172.5,238.8 173.1,237.2 173.8,241.2 174.4,245.5 175.0,248.8 175.6,253.3 176.2,256.2 176.9,257.2 177.5,261.2 178.1,263.8 178.8,266.7 179.4,271.2 180.0,277.9 180.6,280.0 181.2,285.0 181.9,286.5 182.5,286.5 183.1,282.5 183.7,284.0 184.4,277.4 185.0,278.8 185.6,275.0 186.3,275.2 186.9,271.2 187.5,266.7 188.1,266.2 188.8,264.4 189.4,263.8 190.0,269.7 190.6,275.0 191.2,280.5 191.9,283.8 192.5,289.6 193.1,288.8 193.7,286.4 194.4,281.0 195.0,282.5 195.6,293.6 196.2,293.8 196.9,297.3 197.5,300.0 198.1,296.7 198.8,298.8 199.4,297.5 200.0,296.8 200.6,301.2 201.2,305.2 201.9,310.0 202.5,308.5 203.1,312.5 203.7,312.9 204.4,306.9 205.0,302.5 205.6,304.3 206.3,304.5 206.9,312.5 207.5,315.2 208.1,314.2 208.8,313.8 209.4,312.2 210.0,316.5 210.6,315.0 211.2,318.1 211.9,322.5 212.5,325.0 213.1,329.5 213.8,328.0 214.4,336.2 215.0,342.5 215.6,345.3 216.3,342.0 216.9,348.8 217.5,345.4 218.1,342.5 218.8,336.5 219.4,331.2 220.0,327.4 220.6,325.0 221.2,329.2 221.9,335.0 222.5,331.8 223.1,326.2 223.8,326.7 224.4,326.2 225.0,328.0 225.6,332.5 226.2,337.4 226.9,338.8 227.5,339.4 228.1,343.8 228.7,351.2 229.4,351.4 230.0,352.0 230.6,355.1 231.2,362.8 231.9,360.2 232.5,365.0 233.2,369.5 234.0,368.0 234.6,372.4 235.1,372.8 235.7,371.2 236.2,371.2 236.9,364.2 237.5,360.5 238.1,364.9 238.8,360.0 239.4,360.8 240.0,355.0 240.6,354.7 241.2,351.2 241.9,344.5 242.5,343.5 243.1,345.0 243.8,339.7 244.4,333.8 245.0,336.7 245.6,336.2 246.2,336.4 246.9,340.0 247.5,338.5 248.1,332.5 248.8,332.1 249.4,333.8 250.0,342.6 250.6,347.5 251.2,343.5 251.9,343.8 252.5,341.7 253.1,337.5 253.8,338.6 254.4,336.2 255.0,339.4 255.6,340.0 256.2,340.6 256.9,338.0 257.5,334.0 258.1,333.8 258.8,332.2 259.4,331.2 260.0,330.0 260.6,329.8 261.2,332.5 261.9,337.7 262.5,337.5 263.1,343.2 263.8,347.5 264.4,353.0 265.0,349.7 265.6,352.6 266.2,349.0 266.9,344.0 267.5,345.5 268.1,339.8 268.8,341.2 269.4,339.9 270.0,336.8 270.6,344.3 271.2,343.0 271.9,338.4 272.5,338.0 273.1,336.8 273.8,335.0 274.4,336.0 275.0,339.5 275.6,334.8 276.2,335.0 276.9,332.5 277.5,334.0 278.1,330.0 278.8,324.0 279.4,322.9 280.0,318.0 280.6,316.5 281.2,314.5 281.9,316.0 282.5,314.0 283.1,315.5 283.8,312.5 284.4,307.5 285.0,309.0 285.6,300.0 286.2,298.8 286.9,297.5 287.5,296.0 288.1,298.8 288.8,299.8 289.4,296.2 290.0,295.7 290.6,293.8 291.2,300.0 291.9,306.1 292.5,307.5 293.1,312.9 293.8,313.8 294.4,315.1 295.0,315.0 295.6,320.0 296.2,323.1 296.9,330.0 297.5,329.6 298.1,333.8 298.8,331.2 299.4,331.2 300.0,329.6 300.6,325.0 301.2,326.2 301.9,335.0 302.5,346.2 303.1,349.2 303.8,350.0 304.4,351.1 305.0,348.8 305.6,352.8 306.2,355.0 306.9,359.5 307.5,360.0 308.1,362.4 308.8,362.0 309.4,364.3 310.0,372.0 310.6,376.8 311.2,377.5 311.9,378.1 312.5,378.8 313.1,377.9 313.8,376.5 314.4,376.2 315.0,377.1 315.6,377.8 316.2,375.0 316.9,378.4 317.5,377.5 318.1,381.5 318.8,377.5 319.4,380.0 320.0,383.8 320.6,383.0 321.2,383.2 321.9,384.4 322.5,385.0 323.1,385.8 323.8,388.0 324.4,383.6 325.0,380.0 325.6,375.0 326.2,370.0 326.9,368.0 327.5,368.8 328.1,368.1 328.8,367.2 329.4,370.0 330.0,370.1 330.6,367.9 331.2,367.7 331.8,369.2 332.5,375.5 333.2,376.5 334.1,381.1 334.8,382.6 335.5,380.2 336.2,386.1 336.9,384.8 337.6,385.2 338.3,392.2 339.0,395.2 339.7,396.8 340.4,395.7 341.0,397.7 341.7,392.6 342.4,387.6 343.1,386.9 343.8,380.2 344.7,376.5 345.6,367.4 346.5,371.0 347.0,377.1 347.5,383.0 348.4,396.8 349.3,399.5 350.2,392.2 351.1,394.9 351.6,398.0 352.1,400.4 353.0,405.0 353.9,399.5 354.8,392.2 355.5,393.7 356.2,391.2 356.9,390.4 357.6,393.1 358.3,391.9 359.0,394.9 359.6,398.7 360.3,397.7 361.0,392.7 361.7,387.6 362.6,383.0 363.3,382.9 364.0,385.7 364.7,386.5 365.4,387.6 366.3,394.9 367.2,389.4 368.1,383.0 368.8,378.7 369.5,380.2 370.2,382.5 370.9,381.1 371.6,384.5 372.3,383.0 373.0,384.2 373.7,386.7 374.4,380.8 375.0,382.1 375.5,383.0 376.0,375.6 376.9,370.1 377.6,367.7 378.3,369.2 379.0,372.6 379.6,372.0 380.1,371.9 380.6,372.5 381.2,372.1 381.9,375.0 382.5,368.3 383.1,366.2 383.8,362.4 384.4,356.2 385.0,355.2 385.6,355.0 386.2,359.0 386.9,357.5 387.5,356.3 388.1,352.5 388.8,356.3 389.4,355.0 390.0,357.2 390.6,358.8 391.2,360.2 391.9,358.8 392.5,361.5 393.1,366.2 393.8,371.5 394.4,378.8 395.0,373.9 395.6,370.0 396.2,371.5 396.9,368.8 397.5,366.0 398.1,362.5 398.8,362.5 399.4,356.2 400.0,352.0 400.6,350.0 401.2,347.3 401.9,342.5 402.5,341.2 403.1,338.8 403.7,338.3 404.4,341.1 405.0,340.0 405.6,341.8 406.3,344.0 406.9,342.5 407.5,348.7 408.1,355.0 408.8,361.8 409.4,367.5 410.0,366.0 410.6,372.5 411.2,378.7 411.9,378.2 412.5,380.0 413.1,383.5 413.8,387.8 414.4,386.2 415.0,387.8 415.6,383.8 416.2,381.4 416.9,375.0 417.5,370.6 418.1,367.0 418.8,368.5 419.4,365.0 420.0,366.4 420.6,367.5 421.2,360.5 421.9,362.1 422.5,362.0 423.1,360.7 423.8,363.5 424.4,359.0 425.0,354.8 425.6,356.2 426.2,357.3 426.9,347.5 427.5,344.8 428.1,346.2 428.8,345.7 429.4,340.0 430.0,337.3 430.6,337.5 431.2,331.9 431.9,330.0 432.5,330.0 433.1,328.9 433.8,327.5 434.4,330.0 435.0,336.2 435.6,330.2 436.2,330.0 436.9,334.0 437.5,332.5 438.1,331.0 438.8,335.0 439.4,339.5 440.0,346.2 440.6,355.7 441.2,358.8 441.9,357.2 442.5,361.2 443.1,356.0 443.8,357.5 444.4,357.1 445.0,360.0 445.6,357.9 446.2,356.0 446.9,360.5 447.5,359.0 448.1,362.5 448.8,365.0 449.4,368.8 450.0,370.9 450.6,376.2 451.2,378.2 451.9,378.8 452.5,376.2 453.1,375.0 453.7,374.2 454.4,368.1 455.0,368.8 455.6,370.2 456.3,370.2 456.9,367.5 457.5,367.4 458.1,368.8 458.8,367.2 459.4,373.8 460.0,376.5 460.6,375.0 461.2,374.2 461.9,380.0 462.5,384.5 463.1,383.0 463.8,381.2 464.4,379.0 465.0,380.5 465.6,375.0 466.2,378.8 466.9,384.2 467.5,385.0 468.1,391.2 468.7,391.6 469.4,391.0 470.0,393.8 470.6,392.3 471.2,392.2 471.9,392.2 472.5,395.0 473.1,396.5 473.8,403.8 474.4,404.3 475.0,402.2 475.6,405.2 476.2,403.8 476.9,407.8 477.5,406.6 478.1,408.8 478.8,411.2 479.4,415.0 480.0,419.0 480.6,420.0 481.2,422.7 481.9,423.8 482.5,425.2 483.1,424.4 483.8,422.5 484.4,426.2 485.0,427.5 485.6,423.9 486.2,422.5 486.9,417.6 487.5,412.5 488.1,411.1 488.8,407.5 489.4,405.9 490.0,400.0 490.6,403.5 491.2,403.8 491.9,404.2 492.5,398.8 493.1,393.3 493.8,392.5 494.4,385.0 495.0,384.9 495.6,382.5 496.2,381.3 496.9,384.7 497.5,383.8 498.1,383.9 498.8,380.9 499.4,381.2 500.0,383.8 500.6,380.8 501.2,382.5 501.9,382.1 502.5,380.0 503.1,370.0 503.7,368.8 504.4,368.9 505.0,361.2 505.6,364.9 506.3,363.5 506.9,366.2 507.5,369.8 508.1,370.0 508.8,368.9 509.4,365.0 510.0,361.8 510.6,360.0 511.2,362.5 511.9,363.8 512.5,364.2 513.1,375.0 513.7,373.4 514.4,371.4 515.0,372.5 515.6,366.2 516.3,367.0 516.9,367.5 517.5,364.2 518.1,364.2 518.8,361.2 519.4,355.2 520.0,354.2 520.6,355.0 521.2,359.3 521.9,358.8 522.5,358.7 523.1,366.2 523.7,367.8 524.4,367.8 525.0,365.0 525.6,366.5 526.2,361.2 526.9,356.0 527.5,357.5 528.1,359.0 528.8,361.5 529.4,360.0 530.0,360.8 530.6,352.5 531.2,350.8 531.9,348.8 532.5,350.5 533.1,358.8 533.8,353.1 534.4,350.0 535.0,345.7 535.6,340.0 536.2,336.1 536.9,333.8 537.5,332.3 538.1,330.0 538.8,328.8 539.4,329.7 540.0,331.2 540.6,334.9 541.2,335.0 541.9,333.3 542.5,330.0 543.1,325.2 543.8,326.2 544.4,322.6 545.0,322.5 545.6,329.0 546.2,327.5 546.9,332.6 547.5,332.5 548.1,330.4 548.8,325.0 549.4,326.6 550.0,327.5 550.6,327.5 551.2,332.5 551.9,330.0 552.5,328.8 553.1,332.2 553.8,335.0 554.4,334.1 555.0,330.0 555.6,328.5 556.2,331.2 556.9,329.8 557.5,326.0 558.1,327.5 558.8,330.3 559.4,332.5 560.0,327.7 560.6,323.8 561.2,323.1 561.9,330.0 562.5,333.3 563.1,333.8 563.8,331.2 564.4,330.0 565.0,328.5 565.6,332.5 566.2,333.5 566.9,333.1 567.5,333.8 568.1,331.9 568.8,328.8 569.4,331.0 570.0,332.5 570.6,328.5 571.2,330.0 571.9,327.9 572.5,327.5 573.1,325.0 573.8,320.0 574.4,316.3 575.0,312.5 575.6,318.1 576.2,317.5 576.9,316.0 577.5,320.0 578.1,318.5 578.8,322.5 579.4,317.0 580.0,310.0 580.6,304.9 581.2,301.2 581.9,301.3 582.5,295.0 583.1,292.2 583.8,288.8 584.4,286.1 585.0,287.5 585.6,288.4 586.2,295.0 586.9,290.3 587.5,286.2 588.1,281.8 588.8,282.5 589.4,283.3 590.0,287.5 590.6,286.0 591.2,290.0 591.9,294.0 592.5,292.5 593.1,297.1 593.8,298.0 594.4,303.5 595.0,302.0 595.6,300.5 596.2,303.0 596.9,307.0 597.5,308.0 598.1,310.5 598.8,309.6 599.4,313.8 600.0,312.2 600.6,317.5 601.2,319.0 601.9,313.8 602.5,309.3 603.1,308.0 603.8,307.2 604.4,312.5 605.0,316.2 605.6,317.5 606.2,316.0 606.9,317.5 607.5,318.2 608.1,319.0 608.8,315.0 609.4,314.0 610.0,307.5 610.6,305.0 611.2,302.5 611.9,304.0 612.5,307.8 613.1,312.5 613.8,316.5 614.4,322.5 615.0,324.7 615.6,330.0 616.2,335.0 616.9,330.5 617.5,326.2 618.1,322.0 618.8,321.0 619.4,318.8 620.0,323.9 620.6,326.2 621.2,330.9 621.9,332.5 622.5,331.9 623.1,335.0 623.8,332.5 624.4,332.5 625.0,332.7 625.6,330.0 626.2,331.2 626.9,330.2 627.5,331.2 628.1,329.8 628.8,332.5 629.4,333.2 630.0,338.8 630.6,341.3 631.2,343.8 631.9,342.2 632.5,346.2 633.1,348.8 633.8,348.6 634.4,347.5 635.0,344.8 635.6,346.2 636.2,347.7 636.9,352.5 637.5,354.1 638.1,357.5 638.8,356.5 639.4,358.8 640.0,352.7 640.6,347.5 641.2,340.4 641.9,338.8 642.5,331.5 643.1,328.8 643.8,322.8 644.4,323.8 645.0,321.7 645.6,318.8 646.2,323.5 646.9,323.8 647.5,328.2 648.1,327.5 648.8,332.7 649.4,332.5 650.0,331.0 650.6,333.8 651.2,336.5 651.9,335.0 652.5,333.6 653.1,337.5 653.8,341.5 654.4,342.5 655.0,342.4 655.6,346.2 656.2,349.0 656.9,347.5 657.5,349.5 658.1,350.0 658.8,350.9 659.4,346.2 660.0,345.3 660.6,343.8 661.2,345.2 661.9,342.5 662.5,340.4 663.1,340.0 663.8,339.4 664.4,338.8 665.0,334.9 665.6,335.0 666.2,336.5 666.9,331.2 667.5,332.8 668.1,328.8 668.8,330.2 669.4,327.5 670.0,332.7 670.6,337.5 671.2,336.6 671.9,338.2 672.5,339.0"/>
</g>
<rect x="52.0" y="18.9" width="619.90" height="462.00" fill="none" stroke="#000" stroke-width="1.39" stroke-linejoin="miter"/>
<g stroke="#000" stroke-width="1.39">
<line x1="45.2" y1="90.1" x2="52.0" y2="90.1"/>
<line x1="45.2" y1="178.6" x2="52.0" y2="178.6"/>
<line x1="45.2" y1="268.8" x2="52.0" y2="268.8"/>
<line x1="45.2" y1="357.6" x2="52.0" y2="357.6"/>
<line x1="45.2" y1="445.9" x2="52.0" y2="445.9"/>
<line x1="54.3" y1="480.9" x2="54.3" y2="485.0" stroke-width="1.2"/>
<line x1="73.3" y1="480.9" x2="73.3" y2="485.0" stroke-width="1.2"/>
<line x1="92.3" y1="480.9" x2="92.3" y2="485.0" stroke-width="1.2"/>
<line x1="111.3" y1="480.9" x2="111.3" y2="485.0" stroke-width="1.2"/>
<line x1="130.3" y1="480.9" x2="130.3" y2="485.0" stroke-width="1.2"/>
<line x1="149.3" y1="480.9" x2="149.3" y2="485.0" stroke-width="1.2"/>
<line x1="188.3" y1="480.9" x2="188.3" y2="485.0" stroke-width="1.2"/>
<line x1="205.3" y1="480.9" x2="205.3" y2="485.0" stroke-width="1.2"/>
<line x1="224.3" y1="480.9" x2="224.3" y2="485.0" stroke-width="1.2"/>
<line x1="243.3" y1="480.9" x2="243.3" y2="485.0" stroke-width="1.2"/>
<line x1="262.3" y1="480.9" x2="262.3" y2="485.0" stroke-width="1.2"/>
<line x1="281.3" y1="480.9" x2="281.3" y2="485.0" stroke-width="1.2"/>
<line x1="300.3" y1="480.9" x2="300.3" y2="485.0" stroke-width="1.2"/>
<line x1="319.3" y1="480.9" x2="319.3" y2="485.0" stroke-width="1.2"/>
<line x1="338.3" y1="480.9" x2="338.3" y2="485.0" stroke-width="1.2"/>
<line x1="357.3" y1="480.9" x2="357.3" y2="485.0" stroke-width="1.2"/>
<line x1="376.3" y1="480.9" x2="376.3" y2="485.0" stroke-width="1.2"/>
<line x1="415.3" y1="480.9" x2="415.3" y2="485.0" stroke-width="1.2"/>
<line x1="432.3" y1="480.9" x2="432.3" y2="485.0" stroke-width="1.2"/>
<line x1="451.3" y1="480.9" x2="451.3" y2="485.0" stroke-width="1.2"/>
<line x1="470.3" y1="480.9" x2="470.3" y2="485.0" stroke-width="1.2"/>
<line x1="489.3" y1="480.9" x2="489.3" y2="485.0" stroke-width="1.2"/>
<line x1="508.3" y1="480.9" x2="508.3" y2="485.0" stroke-width="1.2"/>
<line x1="527.3" y1="480.9" x2="527.3" y2="485.0" stroke-width="1.2"/>
<line x1="546.3" y1="480.9" x2="546.3" y2="485.0" stroke-width="1.2"/>
<line x1="565.3" y1="480.9" x2="565.3" y2="485.0" stroke-width="1.2"/>
<line x1="584.3" y1="480.9" x2="584.3" y2="485.0" stroke-width="1.2"/>
<line x1="603.3" y1="480.9" x2="603.3" y2="485.0" stroke-width="1.2"/>
<line x1="641.3" y1="480.9" x2="641.3" y2="485.0" stroke-width="1.2"/>
<line x1="659.3" y1="480.9" x2="659.3" y2="485.0" stroke-width="1.2"/>
<line x1="52.0" y1="480.9" x2="52.0" y2="487.4"/>
<line x1="168.3" y1="480.9" x2="168.3" y2="487.4"/>
<line x1="395.8" y1="480.9" x2="395.8" y2="487.4"/>
<line x1="622.3" y1="480.9" x2="622.3" y2="487.4"/>
<line x1="671.9" y1="480.9" x2="671.9" y2="487.4"/>
</g>
<text transform="translate(17.86,96.60) scale(1.0453,1)" font-size="18.4">40</text>
<text transform="translate(17.29,185.50) scale(1.0891,1)" font-size="18.4">20</text>
<text transform="translate(28.84,275.60) scale(1.0573,1)" font-size="18.4">0</text>
<text transform="translate(4.08,364.00) scale(1.1255,1)" font-size="18.4">−20</text>
<text transform="translate(4.08,452.60) scale(1.1255,1)" font-size="18.4">−40</text>
<text transform="translate(42.34,504.00) scale(0.8908,1)" font-size="18.4">Jul</text>
<text transform="translate(153.94,506.80) scale(0.9083,1)" font-size="18.4">Jan</text>
<text transform="translate(146.21,527.70) scale(1.0740,1)" font-size="18.4">2013</text>
<text transform="translate(268.55,504.00) scale(0.8863,1)" font-size="18.4">Jul</text>
<text transform="translate(380.74,506.80) scale(0.8977,1)" font-size="18.4">Jan</text>
<text transform="translate(373.02,527.70) scale(1.0641,1)" font-size="18.4">2014</text>
<text transform="translate(495.55,504.00) scale(0.8863,1)" font-size="18.4">Jul</text>
<text transform="translate(607.74,506.80) scale(0.9083,1)" font-size="18.4">Jan</text>
<text transform="translate(599.32,527.70) scale(1.0628,1)" font-size="18.4">2015</text>
<rect x="60.8" y="27.7" width="76.1" height="109.4" rx="3.47" ry="3.47" fill="#fff" fill-opacity="0.8" stroke="#cccccc" stroke-opacity="0.8" stroke-width="1.74"/>
<line x1="67.45" y1="41.80" x2="101.2" y2="41.80" stroke="#1f77b4" stroke-width="2.6" stroke-linecap="square"/>
<text transform="translate(116.37,49.40) scale(0.9508,1)" font-size="18.4">A</text>
<line x1="67.45" y1="68.05" x2="101.2" y2="68.05" stroke="#ff7f0e" stroke-width="2.6" stroke-linecap="square"/>
<text transform="translate(115.71,74.70) scale(1.0518,1)" font-size="18.4">B</text>
<line x1="67.45" y1="94.35" x2="101.2" y2="94.35" stroke="#2ca02c" stroke-width="2.6" stroke-linecap="square"/>
<text transform="translate(115.58,100.60) scale(0.9869,1)" font-size="18.4">C</text>
<line x1="67.45" y1="120.60" x2="101.2" y2="120.60" stroke="#d62728" stroke-width="2.6" stroke-linecap="square"/>
<text transform="translate(115.65,126.90) scale(1.0919,1)" font-size="18.4">D</text>
</svg></body></html>
